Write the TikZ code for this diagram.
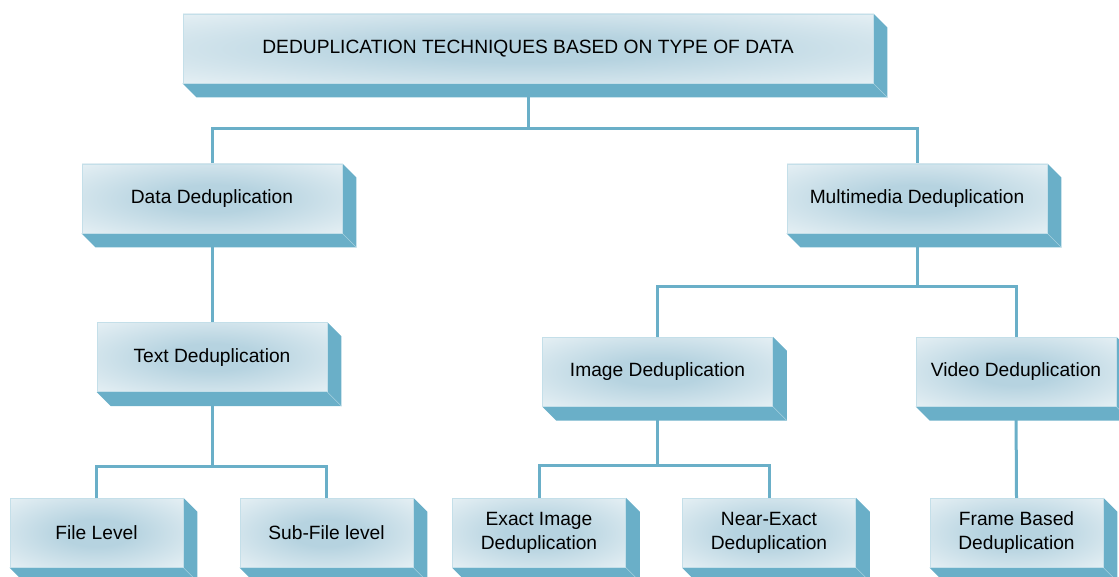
\documentclass[tikz,border=0pt]{standalone}
\usepackage{fontspec}
\setmainfont{Liberation Sans}
\usetikzlibrary{backgrounds,calc}

\definecolor{slabblue}{HTML}{6AAFC8}
\definecolor{slabedge}{HTML}{A6D0DE}
\definecolor{faceblue}{HTML}{B6D3E0}
\definecolor{facewhite}{HTML}{F8FBFC}
\definecolor{rimblue}{HTML}{C4DFE9}

% soft glow for the front faces, bluish in the middle and fading out to the rims
\pgfdeclareradialshading{facefade}{\pgfpoint{0bp}{0bp}}{%
  color(0bp)=(faceblue); color(10bp)=(faceblue);
  color(46bp)=(facewhite); color(50bp)=(facewhite)}

\tikzset{
  box/.style={draw=rimblue, line width=0.8pt, inner sep=0pt, align=center,
    minimum height=69pt, shading=facefade,
    font=\fontsize{19.2}{24}\selectfont},
  wide/.style={minimum width=260pt},
  mid/.style={minimum width=230pt},
  leaf/.style={minimum width=173pt},
  link/.style={draw=slabblue, line width=3pt},
  slab/.style={fill=slabblue},
  slabline/.style={draw=slabedge, line width=0.6pt},
}

\begin{document}
\begin{tikzpicture}[x=1pt,y=-1pt]
\useasboundingbox (0,0) rectangle (1119,577);

% front faces
\node[box, minimum width=690pt] (top) at (528,48.5) {DEDUPLICATION TECHNIQUES BASED ON TYPE OF DATA};

\node[box, wide] (data) at (212,198.5) {Data Deduplication};
\node[box, wide] (mm)   at (917,198.5) {Multimedia Deduplication};

\node[box, mid] (text)  at (212,357.2) {Text Deduplication};
\node[box, mid] (image) at (657.5,371.7) {Image Deduplication};
\node[box, minimum width=200pt] (video) at (1016,371.7) {Video Deduplication};

\node[box, leaf] (file)  at (96.5,532.8)  {File Level};
\node[box, leaf] (sub)   at (326.5,532.8) {Sub-File level};
\node[box, leaf] (exact) at (539,532.8)   {Exact Image\\Deduplication};
\node[box, leaf] (near)  at (769,532.8)   {Near-Exact\\Deduplication};
\node[box, leaf] (frame) at (1016.5,532.8) {Frame Based\\Deduplication};

\begin{scope}[on background layer]
  % connectors
  \draw[link] (top.south) -- ++(0,45) -| (data.north);
  \draw[link] (top.south) ++(0,45) -| (mm.north);
  \draw[link] (data.south) -- (text.north);
  \draw[link] (mm.south) -- ++(0,53) -| (image.north);
  \draw[link] (mm.south) ++(0,53) -| (video.north);
  \draw[link] (text.south) -- ++(0,74) -| (file.north);
  \draw[link] (text.south) ++(0,74) -| (sub.north);
  \draw[link] (image.south) -- ++(0,59) -| (exact.north);
  \draw[link] (image.south) ++(0,59) -| (near.north);
  \draw[link] (video.south) -- (frame.north);

  % extruded sides of the boxes
  \foreach \n in {top,data,mm,text,image,video,file,sub,exact,near,frame} {
    \fill[slab] (\n.north east) -- ++(14,14) -- ($(\n.south east)+(14,14)$)
      -- ($(\n.south west)+(14,14)$) -- (\n.south west) -- (\n.south east) -- cycle;
    \draw[slabline] (\n.south east) -- ++(14,14);
  }
\end{scope}
\end{tikzpicture}
\end{document}
